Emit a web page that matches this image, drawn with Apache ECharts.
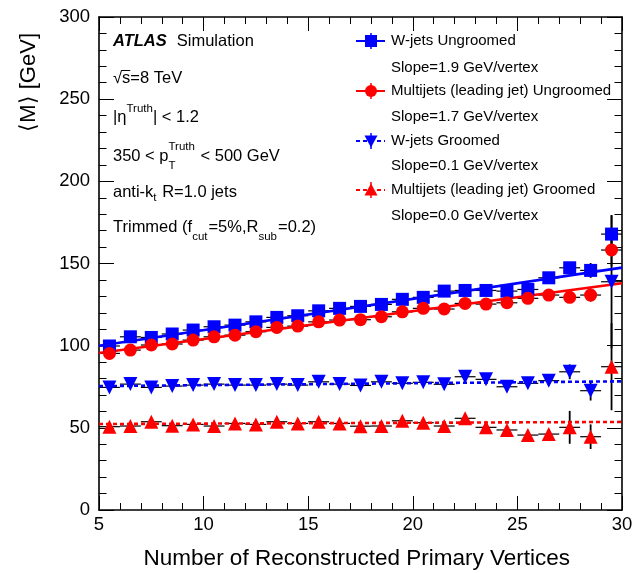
<!DOCTYPE html>
<html><head><meta charset="utf-8">
<script src="https://cdn.jsdelivr.net/npm/echarts@6/dist/echarts.min.js"></script>
<style>html,body{margin:0;padding:0;background:#fff}#c{width:644px;height:573px}</style>
</head><body><div id="c"></div>
<script>
// ---- data ----
const nVertices = [5.5,6.5,7.5,8.5,9.5,10.5,11.5,12.5,13.5,14.5,15.5,16.5,17.5,18.5,19.5,20.5,21.5,22.5,23.5,24.5,25.5,26.5,27.5,28.5,29.5];
const wUngroomed  = [99.8,105.4,105.0,107.1,109.5,111.5,112.5,114.5,117.2,118.2,121.2,122.7,123.9,125.1,128.2,129.4,133.2,133.6,133.6,133.2,134.2,141.3,147.4,145.8,167.9];
const wUngroomedErr = [0.7,0.7,0.7,0.7,0.7,0.7,0.7,0.7,0.8,0.8,0.8,0.9,0.9,1.0,1.0,1.1,1.2,1.3,1.5,1.7,2.0,2.5,3.0,4.5,11.5];
const mjUngroomed = [95.3,97.3,100.4,101.0,103.4,105.4,106.4,108.5,111.1,111.9,114.5,115.6,115.8,117.6,120.6,122.7,122.3,125.7,125.3,126.1,128.8,130.8,129.4,130.8,158.2];
const mjUngroomedErr = [0.7,0.7,0.7,0.7,0.7,0.7,0.7,0.7,0.8,0.8,0.8,0.9,0.9,1.0,1.0,1.1,1.2,1.3,1.5,1.7,2.0,2.5,3.0,4.0,10.0];
const wGroomed    = [74.6,76.6,74.6,75.4,76.0,76.6,76.0,76.0,76.6,76.0,78.0,76.6,75.8,78.0,77.1,77.7,76.5,81.1,79.5,75.0,77.1,78.7,84.1,72.6,138.9];
const wGroomedErr = [0.6,0.6,0.6,0.6,0.6,0.6,0.6,0.6,0.7,0.7,0.7,0.8,0.8,0.9,0.9,1.0,1.1,1.2,1.4,1.6,2.0,3.0,4.5,6.0,40.5];
const mjGroomed   = [50.7,51.1,53.7,51.3,52.1,51.1,52.7,52.1,53.7,52.7,53.7,52.7,51.0,51.1,54.3,53.1,51.1,55.8,50.3,48.7,45.6,46.2,50.3,44.6,87.2];
const mjGroomedErr = [0.6,0.6,0.6,0.6,0.6,0.6,0.6,0.6,0.7,0.7,0.7,0.8,0.8,0.9,0.9,1.0,1.1,1.2,1.4,1.6,2.0,3.0,10.0,7.5,26.5];
// linear fits (value at x=5 and x=30)
const fitRange = [5, 30];
const wUngroomedFit  = [100.0, 147.5];
const mjUngroomedFit = [95.5, 138.0];
const wGroomedFit    = [75.4, 78.3];
const mjGroomedFit   = [52.3, 53.6];
const legendNames = ['W-jets Ungroomed','Multijets (leading jet) Ungroomed','W-jets Groomed','Multijets (leading jet) Groomed'];
const slopeTexts = ['Slope=1.9 GeV/vertex','Slope=1.7 GeV/vertex','Slope=0.1 GeV/vertex','Slope=0.0 GeV/vertex'];
const xTicks = [5,10,15,20,25,30];
const yTicks = [0,50,100,150,200,250,300];

// ---- helpers ----
const FONT = '"Liberation Sans", Arial, Helvetica, sans-serif';
const BLUE = '#0000ff', RED = '#ff0000';
const pts = (ys) => nVertices.map((x,i)=>[x, ys[i]]);
const errPts = (ys, es) => nVertices.map((x,i)=>[x, ys[i], es[i]]);
const fitPts = (f) => [[fitRange[0], f[0]], [fitRange[1], f[1]]];

function errRender(params, api){
  const x = api.value(0), y = api.value(1), e = api.value(2);
  const l = api.coord([x-0.5, y]), r = api.coord([x+0.5, y]);
  const t = api.coord([x, Math.min(y+e, 300)]), b = api.coord([x, Math.max(y-e, 0)]);
  return {type:'group', children:[
    {type:'line', shape:{x1:l[0],y1:l[1],x2:r[0],y2:r[1]}, style:{stroke:'#000', lineWidth:1.2}},
    {type:'line', shape:{x1:t[0],y1:t[1],x2:b[0],y2:b[1]}, style:{stroke:'#000', lineWidth:1.8}}
  ]};
}

const ctx = document.createElement('canvas').getContext('2d');
function tw(t, size, weight, style){
  ctx.font = (style||'normal')+' '+(weight||'normal')+' '+size+'px '+FONT;
  return ctx.measureText(t).width;
}
function txt(x, y, text, size, opt){
  opt = opt || {};
  return {type:'text', x:x, y:y, rotation: opt.rot || 0, z: 100,
    style:{text:text, fill:'#000', fontSize:size, fontFamily:FONT,
      fontWeight: opt.weight || 'normal', fontStyle: opt.style || 'normal',
      align: opt.align || 'left', verticalAlign: 'middle',
      textAlign: opt.align || 'left', textVerticalAlign: 'middle'}};
}
const MAIN = 16.5, SMALL = 11.5;
function richLine(x, yc, parts, out){
  let cx = x;
  for (const p of parts){
    const s = p.s || MAIN;
    out.push(txt(cx, yc + (p.dy||0), p.t, s, {weight:p.weight, style:p.style}));
    const w = tw(p.t, s, p.weight, p.style);
    if (p.adv !== false) cx += w;
    cx += (p.gap || 0);
  }
  return cx;
}

// ---- graphics: annotations + legend ----
const g = [];
richLine(113, 41, [{t:'ATLAS', weight:'bold', style:'italic', gap:10}, {t:'Simulation'}], g);
const afterSqrt = 113 + tw('\u221A', MAIN);
richLine(113, 78, [{t:'\u221A'}, {t:'s=8 TeV'}], g);
g.push({type:'line', z:100, shape:{x1:afterSqrt-1, y1:70.5, x2:afterSqrt + tw('s', MAIN), y2:70.5}, style:{stroke:'#000', lineWidth:1}});
richLine(113, 117, [{t:'|\u03B7'}, {t:'Truth', s:SMALL, dy:-8}, {t:'| < 1.2'}], g);
richLine(113, 156, [{t:'350 < p'}, {t:'T', s:SMALL, dy:10, adv:false}, {t:'Truth', s:SMALL, dy:-9, gap:1}, {t:' < 500 GeV'}], g);
richLine(113, 192, [{t:'anti-k'}, {t:'t', s:SMALL, dy:6, gap:1}, {t:' R=1.0 jets'}], g);
richLine(113, 227, [{t:'Trimmed (f'}, {t:'cut', s:SMALL, dy:10, gap:1}, {t:'=5%,R'}, {t:'sub', s:SMALL, dy:10, gap:1}, {t:'=0.2)'}], g);

const legY = [41, 91, 141, 190];
const slopeY = [68, 117, 166, 216];
const legColors = [BLUE, RED, BLUE, RED];
const legDash = ['solid','solid',[4,3],[4,3]];
const LX = 371;
for (let i=0;i<4;i++){
  const y = legY[i], c = legColors[i];
  g.push({type:'line', z:100, shape:{x1:356, y1:y, x2:385, y2:y}, style:{stroke:c, lineWidth:2, lineDash: legDash[i]==='solid'?null:legDash[i]}});
  g.push({type:'line', z:100, shape:{x1:LX, y1:y-8, x2:LX, y2:y+8}, style:{stroke:c, lineWidth:1.5}});
  let m;
  if (i===0) m = {type:'rect', shape:{x:LX-6, y:y-6, width:12, height:12}, style:{fill:c}};
  else if (i===1) m = {type:'circle', shape:{cx:LX, cy:y, r:6}, style:{fill:c}};
  else if (i===2) m = {type:'polygon', shape:{points:[[LX-6.5,y-5.5],[LX+6.5,y-5.5],[LX,y+6.5]]}, style:{fill:c}};
  else m = {type:'polygon', shape:{points:[[LX-6.5,y+5.5],[LX+6.5,y+5.5],[LX,y-6.5]]}, style:{fill:c}};
  m.z = 101; g.push(m);
  g.push(txt(391, y, legendNames[i], 15));
  g.push(txt(391, slopeY[i], slopeTexts[i], 15));
}
// axis titles
g.push(txt(570, 559, 'Number of Reconstructed Primary Vertices', 22.5, {align:'right'}));
g.push(txt(29, 33, '\u27E8M\u27E9 [GeV]', 22, {align:'right', rot: Math.PI/2}));

// ---- chart ----
const axisCommon = {
  axisLine:{show:true, onZero:false, lineStyle:{color:'#000', width:1.6}},
  splitLine:{show:false}
};
const xBase = Object.assign({}, axisCommon, {type:'value', min:xTicks[0], max:xTicks[xTicks.length-1], interval:5,
  axisTick:{show:true, inside:true, length:14, lineStyle:{color:'#000', width:1}},
  minorTick:{show:true, splitNumber:5, length:7, lineStyle:{color:'#000', width:1}}});
const yBase = Object.assign({}, axisCommon, {type:'value', min:yTicks[0], max:yTicks[yTicks.length-1], interval:50,
  axisTick:{show:true, inside:true, length:15, lineStyle:{color:'#000', width:1}},
  minorTick:{show:true, splitNumber:5, length:7.5, lineStyle:{color:'#000', width:1}}});

function markerSeries(ys, symbol, size, color, rot){
  return {type:'scatter', data:pts(ys), symbol:symbol, symbolSize:size, symbolRotate:rot||0,
    itemStyle:{color:color, opacity:1}, z:5, silent:true, animation:false};
}
function errSeries(ys, es){
  return {type:'custom', data:errPts(ys, es), renderItem:errRender, encode:{x:0,y:1}, z:2, silent:true, animation:false, clip:true};
}
function fitSeries(f, color, dashed){
  return {type:'line', data:fitPts(f), showSymbol:false, symbol:'none', z:3, silent:true, animation:false,
    lineStyle:{color:color, width:2.6, type: dashed?[4,3]:'solid'}};
}

const chart = echarts.init(document.getElementById('c'), null, {renderer:'canvas'});
chart.setOption({
  animation:false,
  backgroundColor:'#fff',
  grid:{left:99, right:22, top:17, bottom:63, containLabel:false},
  xAxis:[
    Object.assign({}, xBase, {position:'bottom', axisLabel:{show:true, color:'#000', fontSize:18.5, fontFamily:FONT, margin:5, showMinLabel:true, showMaxLabel:true}}),
    Object.assign({}, xBase, {position:'top', axisLabel:{show:false}})
  ],
  yAxis:[
    Object.assign({}, yBase, {position:'left', axisLabel:{show:true, color:'#000', fontSize:18.5, fontFamily:FONT, margin:9, showMinLabel:true, showMaxLabel:true}}),
    Object.assign({}, yBase, {position:'right', axisLabel:{show:false}})
  ],
  series:[
    errSeries(wUngroomed, wUngroomedErr),
    errSeries(mjUngroomed, mjUngroomedErr),
    errSeries(wGroomed, wGroomedErr),
    errSeries(mjGroomed, mjGroomedErr),
    fitSeries(wUngroomedFit, BLUE, false),
    fitSeries(mjUngroomedFit, RED, false),
    fitSeries(wGroomedFit, BLUE, true),
    fitSeries(mjGroomedFit, RED, true),
    markerSeries(wUngroomed, 'rect', 13, BLUE),
    markerSeries(mjUngroomed, 'circle', 13, RED),
    markerSeries(wGroomed, 'triangle', 14, BLUE, 180),
    markerSeries(mjGroomed, 'triangle', 14, RED)
  ],
  graphic:{elements:g}
});
</script>
</body></html>
